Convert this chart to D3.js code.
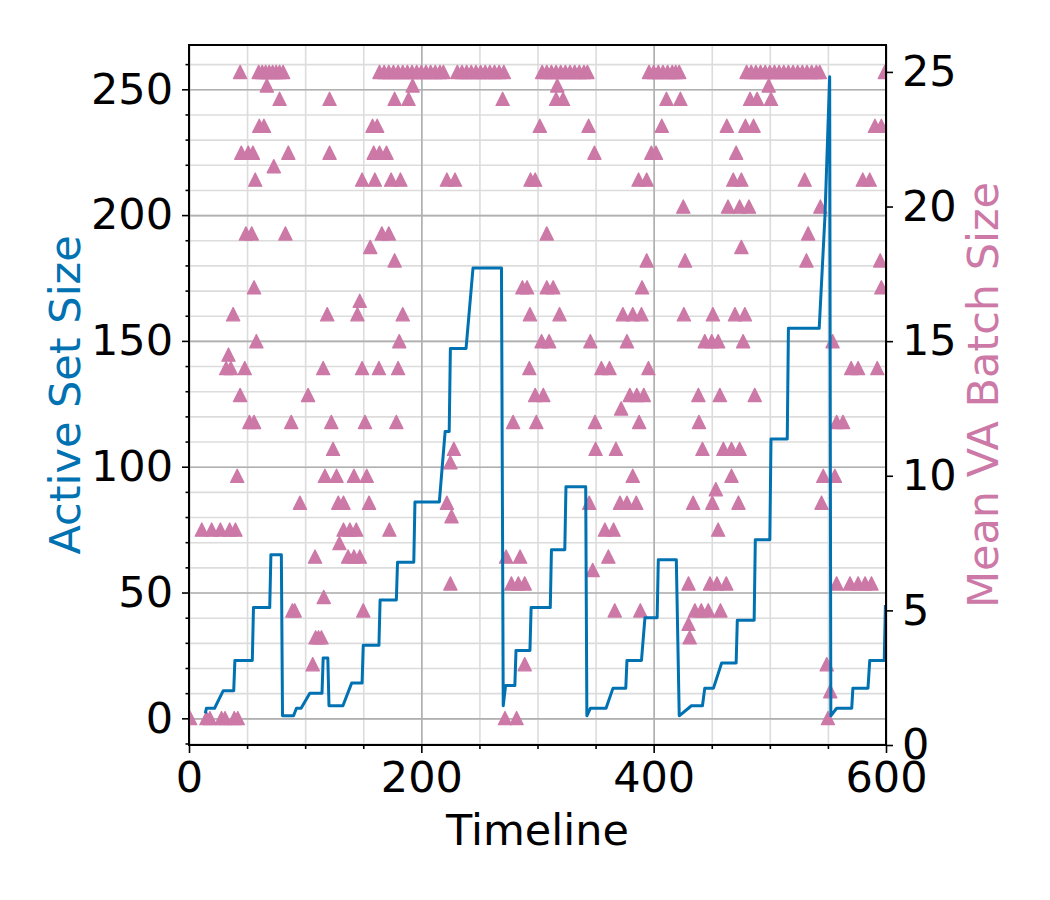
<!DOCTYPE html>
<html>
<head>
<meta charset="utf-8">
<script src="https://cdn.jsdelivr.net/npm/d3@7"></script>
<style>
  body { margin: 0; background: #fff; }
  svg text { font-family: "DejaVu Sans", sans-serif; }
</style>
</head>
<body>
<div id="chart"></div>
<script>

// active set size (left axis), vertices of the stepped line
var activeTime = [14, 15, 22, 29.5, 38.5, 39.5, 54.5, 55.5, 69.5, 70.5, 79.5, 80.5, 90, 92.5, 96.5, 104,
  114.5, 115.5, 119.5, 120.5, 132.5, 140, 149, 150, 163.5, 164.5, 178.5, 179.5, 193.5, 194.5,
  215.5, 220.5, 224, 225, 238.5, 244.5, 269, 270.5, 272.5, 280.5, 281.5, 293.5, 294.5, 311, 312,
  323.5, 324.5, 341.5, 342.5, 345.5, 359, 365, 376, 377, 389.5, 392.5, 403, 404, 419.5, 422,
  432.5, 442, 444, 451.5, 458.5, 471, 472, 486.5, 487.5, 500, 501, 515, 516, 542.5, 547.5,
  551.5, 552.5, 557.5, 570.5, 571.5, 584.5, 586, 598.5, 599.5];
var activeSize = [2, 4, 4, 11, 11, 23, 23, 44, 44, 65, 65, 1, 1, 4, 4, 10,
  10, 24, 24, 5, 5, 14, 14, 29, 29, 47, 47, 62, 62, 86,
  86, 114, 114, 147, 147, 179, 179, 5, 13, 13, 27, 27, 44, 44, 67,
  67, 92, 92, 1, 4, 4, 12, 12, 23, 23, 40, 40, 63, 63, 1,
  5, 5, 12, 12, 22, 22, 39, 39, 71, 71, 111, 111, 155, 155, 200,
  255, 1, 4, 4, 12, 12, 23, 23, 45];

// mean VA batch size (right axis): [time, size]
var batchPoints = [
  [44, 25], [60, 25], [63, 25], [66, 25], [69, 25], [72, 25], [75, 25], [78, 25], [81, 25],
  [164, 25], [168, 25], [172, 25], [176, 25], [180, 25], [184, 25], [188, 25], [192, 25], [196, 25],
  [200, 25], [204, 25], [208, 25], [212, 25], [216, 25], [219, 25],
  [231, 25], [235, 25], [239, 25], [243, 25], [247, 25], [251, 25], [255, 25], [259, 25], [263, 25],
  [267, 25], [271, 25],
  [304, 25], [308, 25], [312, 25], [316, 25], [320, 25], [324, 25], [328, 25], [332, 25], [336, 25],
  [340, 25], [343, 25],
  [396, 25], [400, 25], [404, 25], [408, 25], [412, 25], [416, 25], [419, 25], [422, 25],
  [480, 25], [484, 25], [488, 25], [492, 25], [496, 25], [500, 25], [504, 25], [508, 25], [512, 25],
  [516, 25], [520, 25], [524, 25], [528, 25], [532, 25], [536, 25], [540, 25], [543, 25], [599, 25],
  [67, 24.5], [192.5, 24.5], [317, 24.5], [499, 24.5],
  [78, 24], [121, 24], [177, 24], [189, 24], [270, 24], [316, 24], [322, 24], [411, 24], [423, 24],
  [483, 24], [489, 24], [501, 24],
  [60.5, 23], [64.5, 23], [158, 23], [162, 23], [302, 23], [344, 23], [407, 23], [463, 23], [479, 23],
  [486, 23], [590.5, 23], [596, 23],
  [45, 22], [51, 22], [55, 22], [85.5, 22], [121, 22], [159, 22], [164, 22], [170, 22], [349, 22],
  [398, 22], [402, 22], [471, 22],
  [73, 21.5],
  [57, 21], [149, 21], [160, 21], [174, 21], [182, 21], [222, 21], [229, 21], [294, 21], [298, 21],
  [387, 21], [394, 21], [468.5, 21], [475.5, 21], [530, 21], [580, 21], [586, 21],
  [425.5, 20], [464, 20], [474, 20], [482, 20], [543.5, 20],
  [49, 19], [54, 19], [83, 19], [166, 19], [172, 19], [308, 19], [533, 19],
  [156, 18.5], [475.5, 18.5],
  [177, 18], [394, 18], [427, 18], [531.5, 18], [595, 18],
  [56, 17], [287, 17], [291, 17], [308, 17], [313.5, 17], [390, 17], [596, 17],
  [147, 16.5],
  [38, 16], [119, 16], [145, 16], [184, 16], [293.5, 16], [319, 16], [373.5, 16], [382, 16],
  [389.5, 16], [426, 16], [451, 16], [470, 16], [478.5, 16],
  [58, 15], [181, 15], [303.5, 15], [310, 15], [345.5, 15], [377, 15], [444, 15], [450, 15],
  [455.5, 15], [477, 15], [554, 15],
  [34, 14.5],
  [32, 14], [36, 14], [48, 14], [115.5, 14], [149, 14], [163.5, 14], [180, 14], [293, 14], [355, 14],
  [362, 14], [395.5, 14], [570, 14], [576, 14], [592.5, 14],
  [44, 13], [102.5, 13], [298, 13], [305, 13], [379.5, 13], [385.5, 13], [391.5, 13], [438.5, 13],
  [457, 13], [487, 13],
  [372, 12.5],
  [52, 12], [56, 12], [88, 12], [122.5, 12], [151.5, 12], [178.5, 12], [279, 12], [299, 12],
  [349.5, 12], [387.5, 12], [439, 12], [557.5, 12], [563, 12],
  [124, 11], [228, 11], [350, 11], [367.5, 11], [442, 11], [460, 11], [467, 11], [474, 11],
  [225, 10.5],
  [41.5, 10], [117, 10], [127, 10], [142, 10], [153, 10], [382, 10], [467, 10], [546, 10], [556, 10],
  [453.5, 9.5],
  [95.5, 9], [128.5, 9], [133, 9], [155, 9], [222, 9], [344.5, 9], [371, 9], [377, 9], [385, 9],
  [434, 9], [450.5, 9], [473, 9], [544.5, 9],
  [226, 8.5],
  [11, 8], [19.5, 8], [27, 8], [35, 8], [40, 8], [133, 8], [138.5, 8], [144, 8], [172.5, 8],
  [358, 8], [365.5, 8], [455.5, 8],
  [129.5, 7.5],
  [108.5, 7], [137, 7], [142, 7], [147, 7], [273, 7], [285, 7], [361, 7],
  [347.5, 6.5],
  [225, 6], [277.5, 6], [283.5, 6], [289, 6], [430, 6], [448.5, 6], [454.5, 6], [462.5, 6],
  [557.5, 6], [569, 6], [576, 6], [582, 6], [587.5, 6],
  [116, 5.5],
  [89, 5], [91, 5], [150, 5], [366.5, 5], [388.5, 5], [435.5, 5], [441, 5], [447, 5], [457.5, 5],
  [430, 4.5],
  [109, 4], [111.5, 4], [114, 4], [431, 4],
  [106.5, 3], [289, 3], [549, 3],
  [552, 2],
  [1, 1], [15, 1], [18, 1], [28, 1], [31, 1], [39, 1], [42, 1], [272, 1], [282, 1], [550, 1]
];

var xTicks = [0, 200, 400, 600];
var leftTicks = [0, 50, 100, 150, 200, 250];
var rightTicks = [0, 5, 10, 15, 20, 25];

var blue = '#0072B2',
    pink = '#CC79A7';

var margin = {top: 45, right: 164, bottom: 155, left: 189};
var width = 1050 - margin.left - margin.right,
    height = 900 - margin.top - margin.bottom;

var svg = d3.select("#chart").append("svg")
  .attr("width", 1050)
  .attr("height", 900)
  .style("background", "#fff");

var chart = svg.append("g")
  .attr("transform", "translate(" + margin.left + "," + margin.top + ")");

var xScale = d3.scaleLinear().domain([0, 600]).range([0, width]);
var yLeft = d3.scaleLinear().domain([-10.6, 267.6]).range([height, 0]);
var yRight = d3.scaleLinear().domain([0, 26]).range([height, 0]);

var xMinor = d3.range(0, 601, 50);
var yMinor = d3.range(-10, 261, 10);

// grid, minor first then major on top
chart.append("g").attr("class", "grid minor")
  .call(d3.axisBottom(xScale).tickValues(xMinor).tickSize(-height).tickFormat(""))
  .attr("transform", "translate(0," + height + ")");
chart.append("g").attr("class", "grid minor")
  .call(d3.axisLeft(yLeft).tickValues(yMinor).tickSize(-width).tickFormat(""));
chart.append("g").attr("class", "grid major")
  .call(d3.axisBottom(xScale).tickValues(xTicks).tickSize(-height).tickFormat(""))
  .attr("transform", "translate(0," + height + ")");
chart.append("g").attr("class", "grid major")
  .call(d3.axisLeft(yLeft).tickValues(leftTicks).tickSize(-width).tickFormat(""));

chart.selectAll(".grid .domain").remove();
chart.selectAll(".grid.minor line").attr("stroke", "#dcdcdc").attr("stroke-width", 1.6);
chart.selectAll(".grid.major line").attr("stroke", "#b0b0b0").attr("stroke-width", 1.6);

chart.append("clipPath").attr("id", "plot-clip")
  .append("rect").attr("width", width).attr("height", height);

var plot = chart.append("g").attr("clip-path", "url(#plot-clip)");

// triangles like matplotlib '^'
var tri = function(h) { return "M0," + (-h) + "L" + (-h) + "," + h + "L" + h + "," + h + "Z"; };

plot.selectAll(".batch")
    .data(batchPoints)
  .enter().append("path")
    .attr("class", "batch")
    .attr("d", tri(6.6))
    .attr("transform", function(d) { return "translate(" + xScale(d[0]) + "," + yRight(d[1]) + ")"; })
    .style("fill", pink)
    .style("stroke", pink)
    .style("stroke-width", 1.3)
    .style("stroke-linejoin", "round");

var activeLine = d3.line()
  .x(function(d, i) { return xScale(activeTime[i]); })
  .y(function(d) { return yLeft(d); });

plot.append("path")
  .datum(activeSize)
  .attr("d", activeLine)
  .attr("fill", "none")
  .attr("stroke", blue)
  .attr("stroke-width", 3)
  .attr("stroke-linejoin", "round");

// axes
var fontSize = 43;

chart.append("g").attr("class", "axis")
  .attr("transform", "translate(0," + height + ")")
  .call(d3.axisBottom(xScale).tickValues(xTicks).tickSize(8).tickPadding(8));
chart.append("g").attr("class", "axis")
  .attr("transform", "translate(0," + height + ")")
  .call(d3.axisBottom(xScale).tickValues(xMinor.filter(function(v) { return v % 200; })).tickSize(4).tickFormat(""));

chart.append("g").attr("class", "axis")
  .call(d3.axisLeft(yLeft).tickValues(leftTicks).tickSize(7).tickPadding(9));
chart.append("g").attr("class", "axis")
  .call(d3.axisLeft(yLeft).tickValues(yMinor.filter(function(v) { return v % 50; })).tickSize(3.5).tickFormat(""));

chart.append("g").attr("class", "axis")
  .attr("transform", "translate(" + width + ",0)")
  .call(d3.axisRight(yRight).tickValues(rightTicks).tickSize(7).tickPadding(9));

chart.selectAll(".axis .domain").remove();
chart.selectAll(".axis line").attr("stroke", "#000").attr("stroke-width", 1.6);
chart.selectAll(".axis text")
  .attr("font-size", fontSize)
  .attr("fill", "#000")
  .style("font-family", "DejaVu Sans");

// spines
chart.append("rect")
  .attr("width", width)
  .attr("height", height)
  .attr("fill", "none")
  .attr("stroke", "#000")
  .attr("stroke-width", 2);

// axis labels
chart.append("text")
  .attr("x", width / 2)
  .attr("y", 800)
  .attr("text-anchor", "middle")
  .attr("font-size", fontSize)
  .text("Timeline");

chart.append("text")
  .attr("transform", "translate(" + (80 - margin.left) + "," + (height / 2) + ") rotate(-90)")
  .attr("text-anchor", "middle")
  .attr("font-size", fontSize)
  .attr("fill", blue)
  .text("Active Set Size");

chart.append("text")
  .attr("transform", "translate(" + (998 - margin.left) + "," + (height / 2) + ") rotate(-90)")
  .attr("text-anchor", "middle")
  .attr("font-size", fontSize)
  .attr("fill", pink)
  .text("Mean VA Batch Size");

</script>
</body>
</html>
